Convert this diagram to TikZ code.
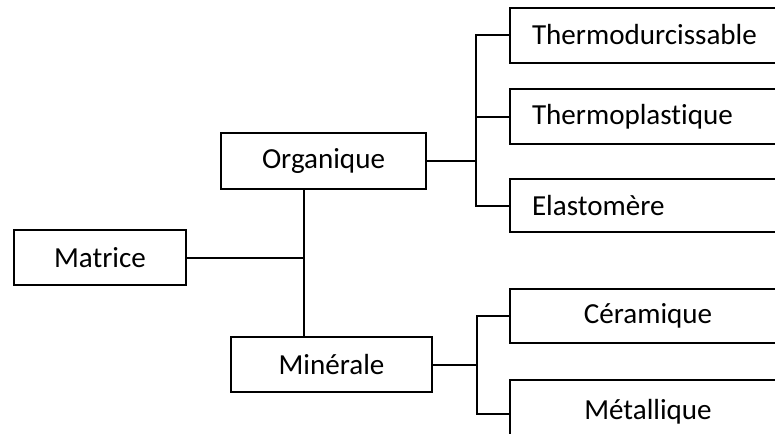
\documentclass[tikz,border=0pt]{standalone}
\usepackage{fontspec}
\setmainfont{Carlito}[Ligatures=NoCommon]
\usepackage{tikz}
\usetikzlibrary{calc}
\usetikzlibrary{positioning}

\begin{document}
\begin{tikzpicture}[x=0.75pt,y=-0.75pt,line width=1.5pt,
    font=\fontsize{21.8}{26}\selectfont,
    boite/.style={draw,inner sep=0pt,minimum height=55*0.75pt},
    classe/.style={boite,anchor=west,minimum width=276*0.75pt},
    classeg/.style={classe,text width=232*0.75pt,align=left}]
          \clip (0,0) rectangle (775,433);

          \node[boite,minimum width=172*0.75pt] (mat) at (100,257.5) {Matrice};
          \node[boite,minimum width=205*0.75pt,minimum height=56*0.75pt] (org) at (323.5,161) {Organique};
          \node[boite,minimum width=201*0.75pt] (min) at (331.5,364.5) {Minérale};

          \node[classeg] (td) at (509,35) {Thermodurcissable};
          \node[classeg] (tp) at (509,116.5) {Thermoplastique};
          \node[classeg,minimum height=53*0.75pt] (ela) at (509,205.5) {Elastomère};
          \node[classe,minimum height=54*0.75pt] (cer) at (509,316) {Céramique};
          \node[classe,anchor=north west,minimum height=64*0.75pt] (met) at (509,379) {Métallique};

          \coordinate (tronc) at (304,257.5);
          \coordinate (borg) at (476,161);
          \coordinate (bmin) at (477,364.5);

          % matrice
          \draw (mat) -- (tronc);
          \draw (org.south -| tronc) -- (min.north -| tronc);

          % organique
          \draw (org) -- (borg);
          \draw (td.west) -| (borg);
          \draw (ela.west) -| (borg);
          \draw (tp.west) -- (tp.west -| borg);

          % minerale
          \draw (min) -- (bmin);
          \draw (cer.west) -| (bmin) |- ([yshift=-1.5pt]met.west);
\end{tikzpicture}
\end{document}
